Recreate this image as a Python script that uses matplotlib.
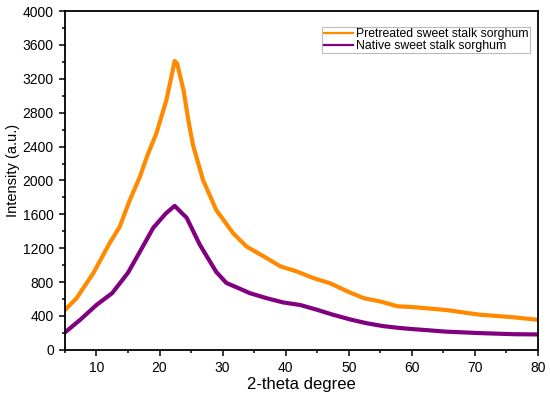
import matplotlib
matplotlib.use("Agg")
from matplotlib import pyplot as plt
from matplotlib.ticker import MultipleLocator

plt.rcParams['font.family'] = ['Liberation Sans', 'DejaVu Sans']

# data (2-theta, intensity)
theta_pre = [5, 6.85, 9.5, 12.1, 13.7, 15.3, 16.9, 18.0, 19.5, 21.1, 22.1, 22.4, 22.8, 23.8,
             24.6, 25.3, 26.9, 29.0, 31.7, 33.8, 36.6, 39.2, 41.8, 44.5, 47.1, 49.8, 52.4,
             55.1, 57.7, 60.2, 65.5, 70.8, 76.1, 80]
pretreated = [470, 610, 905, 1260, 1455, 1770, 2045, 2280, 2555, 2950, 3300, 3410, 3380, 3070,
              2700, 2420, 2005, 1650, 1375, 1220, 1100, 985, 925, 845, 785, 690, 610,
              570, 515, 505, 470, 415, 385, 355]

theta_nat = [5, 7.5, 10, 12.5, 15, 16.9, 19, 21, 22.4, 24.3, 26.4, 29, 30.6, 32.8, 34.3,
             37, 39.6, 42.3, 44.9, 47.5, 50.2, 52.8, 55.5, 58.1, 60.2, 65.5, 70.8, 76.1, 80]
native = [205, 360, 530, 670, 910, 1160, 1440, 1610, 1700, 1560, 1240, 920, 790, 720, 670,
          610, 560, 530, 475, 415, 360, 315, 280, 258, 245, 215, 198, 185, 182]

fig = plt.figure(figsize=(5.5, 3.94), dpi=100)
ax = fig.add_axes([0.118, 0.112, 0.860, 0.860])

ax.plot(theta_pre, pretreated, color='#ff8a00', lw=3, solid_joinstyle='round',
        label='Pretreated sweet stalk sorghum')
ax.plot(theta_nat, native, color='#800080', lw=3, solid_joinstyle='round',
        label='Native sweet stalk sorghum')

ax.set_xlim(5, 80)
ax.set_ylim(0, 4000)
ax.xaxis.set_major_locator(MultipleLocator(10))
ax.xaxis.set_minor_locator(MultipleLocator(5))
ax.yaxis.set_major_locator(MultipleLocator(400))
ax.yaxis.set_minor_locator(MultipleLocator(200))
ax.tick_params(which='major', direction='out', length=4.5, width=1.1, labelsize=10)
ax.tick_params(which='minor', direction='out', length=2.5, width=1.1)
for s in ax.spines.values():
    s.set_linewidth(1.3)

ax.set_xlabel('2-theta degree', fontsize=12, labelpad=1.5)
ax.set_ylabel('Intensity (a.u.)', fontsize=10.5)
ax.yaxis.set_label_coords(-0.095, 0.53)

leg = ax.legend(loc='upper right', bbox_to_anchor=(0.983, 0.954), fontsize=8.8,
                frameon=True, fancybox=False, handlelength=2.4, handletextpad=0.25,
                borderpad=0.1, labelspacing=0.0, borderaxespad=0)
leg.get_frame().set_edgecolor('#aaaaaa')
leg.get_frame().set_linewidth(0.8)
for h in leg.legend_handles:
    h.set_linewidth(1.6)

fig.savefig('out.png', dpi=100)
